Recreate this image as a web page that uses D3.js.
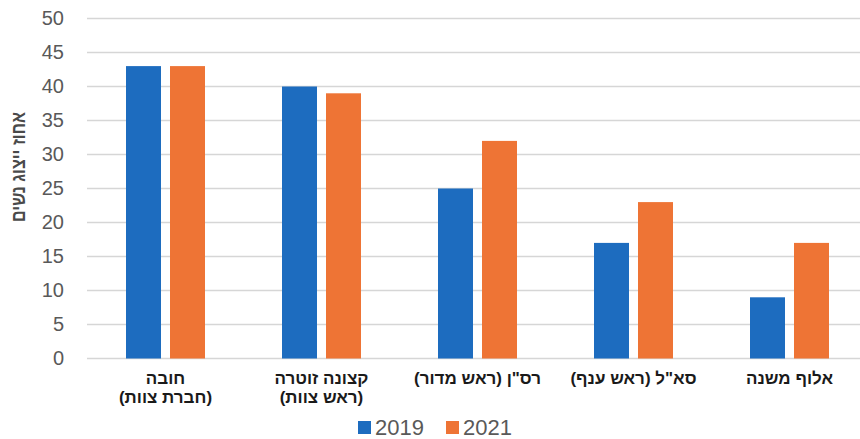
<!DOCTYPE html>
<html><head><meta charset="utf-8">
<script src="https://cdn.jsdelivr.net/npm/d3@7"></script>
<style>body{margin:0;background:#fff}svg{display:block}</style>
</head><body>
<svg id="c" width="860" height="439"></svg>
<script>
const categories = [["חובה","(חברת צוות)"],["קצונה זוטרה","(ראש צוות)"],['רס"ן (ראש מדור)'],['סא"ל (ראש ענף)'],["אלוף משנה"]];
const seriesNames = ["2019","2021"];
const values2019 = [43,40,25,17,9];
const values2021 = [43,39,32,23,17];
const yTicks = [0,5,10,15,20,25,30,35,40,45,50];
const colors = ["#1d6cbf","#ee7435"];
const yTitle = "אחוז ייצוג נשים";

const svg = d3.select("#c");
const x = d3.scaleBand().domain(d3.range(categories.length)).range([87.5,867.5]);
const x1 = d3.scaleBand().domain(seriesNames).range([38.5,117.5]).paddingInner(0.2045);
const y = d3.scaleLinear().domain([0,50]).range([358.5,18.5]);

// gridlines
svg.append("g").selectAll("line").data(yTicks).join("line")
  .attr("x1",87).attr("x2",860).attr("y1",d=>y(d)).attr("y2",d=>y(d))
  .attr("stroke","#d6d6d6").attr("stroke-width",1.5);

// y axis labels
const yAxis = d3.axisLeft(y).tickValues(yTicks).tickSize(0).tickPadding(0);
const ga = svg.append("g").attr("transform","translate(64,0)").call(yAxis);
ga.select(".domain").remove();
ga.selectAll("text").attr("font-family","Liberation Sans, Arial, sans-serif").attr("font-size",20).attr("fill","#595959");

// y title
svg.append("text").attr("transform","translate(20,167) rotate(-90)")
  .attr("text-anchor","middle").attr("dominant-baseline","middle")
  .attr("direction","rtl")
  .attr("textLength",110).attr("lengthAdjust","spacingAndGlyphs")
  .attr("font-family","Liberation Sans, Arial, sans-serif").attr("font-size",19).attr("font-weight","bold").attr("fill","#4a4a4a")
  .text(yTitle);

// bars
const data = categories.map((c,i)=>({i, vals:[values2019[i],values2021[i]]}));
const g = svg.append("g").selectAll("g").data(data).join("g").attr("transform",d=>`translate(${x(d.i)},0)`);
g.selectAll("rect").data(d=>d.vals.map((v,k)=>({k,v}))).join("rect")
  .attr("x",d=>x1(seriesNames[d.k])).attr("width",x1.bandwidth())
  .attr("y",d=>y(d.v)).attr("height",d=>y(0)-y(d.v))
  .attr("fill",d=>colors[d.k]);

// category labels
const cl = svg.append("g").selectAll("text").data(categories).join("text")
  .attr("text-anchor","middle").attr("direction","rtl")
  .attr("font-family","Liberation Sans, Arial, sans-serif").attr("font-size",17).attr("font-weight","bold").attr("fill","#1a1a1a");
cl.each(function(d,i){
  const t = d3.select(this);
  d.forEach((line,j)=>{
    t.append("tspan").attr("x",x(i)+x.bandwidth()/2).attr("y",384+j*19).text(line);
  });
});

// legend
const lg = svg.append("g").attr("font-family","Liberation Sans, Arial, sans-serif").attr("font-size",22).attr("fill","#595959");
const legX = [358,446];
seriesNames.forEach((s,k)=>{
  lg.append("rect").attr("x",legX[k]).attr("y",421).attr("width",13).attr("height",13).attr("fill",colors[k]);
  lg.append("text").attr("x",legX[k]+17).attr("y",435).text(s);
});
</script>
</body></html>
